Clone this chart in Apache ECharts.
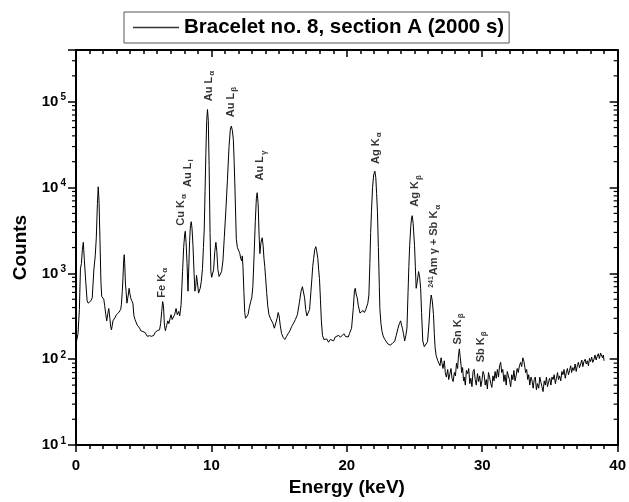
<!DOCTYPE html>
<html>
<head>
<meta charset="utf-8">
<script src="https://cdn.jsdelivr.net/npm/echarts@6/dist/echarts.min.js"></script>
<style>
html,body{margin:0;padding:0;background:#fff}
#chart{width:629px;height:502px}
</style>
</head>
<body>
<div id="chart"></div>
<script>
// spectrum, [energy keV, counts]
var spectrumLow = [
    [0.00,150],[0.15,200],[0.25,380],[0.33,1150],[0.40,1300],[0.47,1900],[0.54,2300],[0.62,1400],[0.72,800],[0.82,480],
    [0.90,450],[1.00,470],[1.10,480],[1.20,520],[1.32,1100],[1.42,1600],[1.50,2600],[1.58,6500],[1.64,10200],[1.70,7000],
    [1.77,2500],[1.84,800],[1.90,540],[1.98,520],[2.05,500],[2.12,420],[2.20,330],[2.27,280],[2.35,340],[2.42,390],
    [2.50,300],[2.56,240],[2.62,220],[2.68,250],[2.73,280],[2.82,270],[2.90,310],[2.98,330],[3.08,320],[3.16,350],
    [3.23,360],[3.30,380],[3.35,430],[3.42,620],[3.47,900],[3.52,1400],[3.56,1650],[3.60,1300],[3.65,750],[3.70,620],
    [3.76,450],[3.80,430],[3.86,560],[3.92,670],[3.98,580],[4.04,520],[4.12,480],[4.20,450],[4.28,320],[4.36,290],
    [4.45,280],[4.52,250],[4.60,240],[4.70,230],[4.78,215],[4.86,225],[4.94,210],[5.02,200],[5.10,205],[5.19,195],
    [5.26,185],[5.34,195],[5.43,188],[5.50,198],[5.58,185],[5.67,195],[5.75,190],[5.84,205],[5.92,200],[6.00,215],
    [6.08,205],[6.17,220],[6.25,260],[6.33,360],[6.40,470],[6.46,420],[6.53,250],[6.60,215],[6.70,250],[6.78,280],
    [6.86,260],[6.95,300],[7.02,330],[7.10,290],[7.19,280],[7.28,330],[7.39,390],[7.48,330],[7.58,360],[7.66,320],
    [7.76,430],[7.82,700],[7.87,1050],[7.95,2000],[8.03,2900],[8.07,3100],[8.13,2300],[8.20,1300],[8.27,620],[8.33,1200],
    [8.39,2400],[8.45,3600],[8.51,4000],[8.57,3300],[8.64,2100],[8.72,1000],[8.78,620],[8.84,700],[8.90,950],[8.96,800],
    [9.05,590],[9.12,620],[9.17,670],[9.25,800],[9.34,1140]
];
var spectrumAu = [
    [9.41,2000],[9.47,3300],[9.53,9000],[9.59,25000],[9.65,60000],[9.71,81000],[9.77,60000],[9.83,18000],[9.90,3000],[9.96,1050],
    [10.02,900],[10.08,870],[10.16,1100],[10.25,1800],[10.33,2300],[10.40,1800],[10.48,1100],[10.57,920],[10.66,950],[10.75,1050],
    [10.85,1400],[10.95,2600],[11.06,5200],[11.18,12000],[11.30,30000],[11.40,48000],[11.47,52000],[11.55,46000],[11.62,36000],[11.68,20000],
    [11.74,9600],[11.80,4200],[11.84,2500],[11.92,2000],[12.00,1900],[12.04,1800],[12.10,1700],[12.16,1500],[12.23,1400],[12.28,1600],
    [12.33,1200],[12.40,600],[12.46,350],[12.52,300],[12.60,310],[12.70,330],[12.80,400],[12.90,470],[12.98,520],[13.06,700],
    [13.15,1600],[13.24,4000],[13.32,7500],[13.38,8700],[13.45,6500],[13.52,2800],[13.58,1700],[13.66,2300],[13.75,2600],[13.82,2100],
    [13.88,1500],[13.94,1200],[14.00,900],[14.08,600],[14.16,420],[14.25,330],[14.35,300],[14.45,290]
];
var spectrumMid = [
    [14.55,260],[14.65,230],[14.75,240],[14.85,300],[14.93,350],[15.00,320],[15.08,250],[15.18,200],[15.30,180],[15.42,170],
    [15.55,185],[15.68,200],[15.80,215],[15.92,240],[16.05,260],[16.20,290],[16.35,330],[16.50,460],[16.62,620],[16.72,700],
    [16.80,680],[16.88,520],[16.96,380],[17.05,320],[17.15,310],[17.25,380],[17.35,620],[17.42,870],[17.48,1200],[17.55,1490],
    [17.63,1900],[17.71,2050],[17.78,1800],[17.86,1490],[17.92,1100],[17.98,870],[18.05,500],[18.12,280],[18.20,190],[18.30,170],
    [18.40,165],[18.52,172],[18.65,158],[18.78,170],[18.90,176],[19.02,164],[19.15,182],[19.28,176],[19.40,190],[19.52,180],
    [19.65,186],[19.78,198],[19.90,184],[20.00,176],[20.11,182],[20.20,200],[20.35,230],[20.48,400],[20.56,620],[20.62,670],
    [20.70,560],[20.77,520],[20.85,420],[20.97,345],[21.08,360],[21.20,370],[21.30,350],[21.40,380],[21.46,390],[21.55,450],
    [21.63,560],[21.70,1300],[21.76,3000],[21.82,5300],[21.90,10000],[21.98,14000],[22.07,15500],[22.14,13000],[22.20,8500],[22.26,5300],
    [22.33,2000],[22.40,700],[22.44,390],[22.52,260],[22.60,210],[22.68,187],[22.80,170],[22.92,160],[23.05,150],[23.20,146],
    [23.35,152],[23.45,160],[23.54,163],[23.65,190],[23.78,230],[23.88,260],[23.97,280],[24.04,250],[24.10,230],[24.18,200],
    [24.27,163],[24.36,190],[24.44,230],[24.52,600],[24.58,1200],[24.64,2100],[24.72,3500],[24.78,4400],[24.83,4700],[24.90,3800],
    [24.95,2800],[25.00,2100],[25.06,1200],[25.12,670],[25.20,800],[25.30,1050],[25.38,900],[25.45,670],[25.52,350],[25.61,163],
    [25.72,140],[25.86,136],[25.96,160],[26.06,250],[26.15,420],[26.23,560],[26.31,480],[26.40,330],[26.46,200],[26.52,136],
    [26.60,110],[26.72,96]
];
var spectrumTail = [
    [26.80,92],[26.88,84],[26.96,104],[27.03,90],[27.10,78],[27.20,96],[27.27,70],[27.35,62],[27.45,76],[27.52,58],
    [27.60,66],[27.69,78],[27.77,60],[27.85,55],[27.94,70],[28.02,64],[28.10,90],[28.18,78],[28.25,112],[28.31,132],
    [28.38,104],[28.44,84],[28.48,70],[28.55,80],[28.62,56],[28.67,62],[28.75,50],[28.83,74],[28.92,68],[29.00,78],
    [29.08,52],[29.16,60],[29.24,48],[29.32,72],[29.40,76],[29.48,58],[29.56,50],[29.65,68],[29.73,55],[29.81,64],
    [29.90,48],[29.98,57],[30.06,72],[30.14,66],[30.22,50],[30.30,58],[30.38,45],[30.46,70],[30.54,62],[30.63,52],
    [30.71,47],[30.79,64],[30.87,56],[30.95,72],[31.03,60],[31.12,76],[31.20,62],[31.28,84],[31.36,92],[31.44,70],
    [31.52,76],[31.60,55],[31.68,66],[31.77,50],[31.85,72],[31.93,64],[32.01,58],[32.10,48],[32.18,66],[32.26,58],
    [32.34,74],[32.42,56],[32.50,64],[32.58,78],[32.66,70],[32.75,84],[32.83,92],[32.91,82],[33.00,104],[33.08,94],
    [33.15,80],[33.20,70],[33.28,76],[33.36,58],[33.43,66],[33.51,50],[33.60,62],[33.68,56],[33.76,46],[33.84,58],
    [33.92,62],[34.00,44],[34.08,52],[34.17,46],[34.25,62],[34.33,54],[34.41,48],[34.49,42],[34.58,56],[34.66,50],
    [34.74,62],[34.82,48],[34.90,55],[34.98,60],[35.07,50],[35.15,62],[35.23,58],[35.31,66],[35.40,52],[35.48,60],
    [35.56,70],[35.63,58],[35.71,64],[35.80,56],[35.88,72],[35.96,66],[36.04,76],[36.13,60],[36.21,70],[36.29,78],
    [36.37,66],[36.45,74],[36.53,84],[36.60,70],[36.69,80],[36.77,74],[36.86,88],[36.94,72],[37.02,84],[37.10,92],
    [37.18,80],[37.27,88],[37.35,98],[37.43,82],[37.51,94],[37.60,100],[37.68,88],[37.76,96],[37.84,84],[37.92,102],
    [38.00,94],[38.08,106],[38.16,92],[38.25,100],[38.33,112],[38.41,98],[38.49,108],[38.57,116],[38.65,102],[38.74,118],
    [38.82,122],[38.88,104],[38.94,112],[39.00,96]
];

// peak labels: [text, energy, counts at the foot of the label]
var peakLabels = [
    ['{n|Fe K}{s|α}', 6.39, 515],
    ['{n|Cu K}{s|α}', 7.78, 3550],
    ['{n|Au L}{s|l}', 8.29, 10000],
    ['{n|Au L}{s|α}', 9.83, 100000],
    ['{n|Au L}{s|β}', 11.45, 65000],
    ['{n|Au L}{s|γ}', 13.65, 11900],
    ['{n|Ag K}{s|α}', 22.17, 18600],
    ['{n|Ag K}{s|β}', 25.10, 5900],
    ['{p|241}{n|Am γ + Sb K}{s|α}', 26.50, 670],
    ['{n|Sn K}{s|β}', 28.26, 147],
    ['{n|Sb K}{s|β}', 29.94, 91]
];

var yMin = 10, yMax = 400000;
var yDecades = [10, 100, 1000, 10000, 100000];
var seriesName = 'Bracelet no. 8, section A (2000 s)';

var FONT = '"Liberation Sans", Arial, sans-serif';

// log minor ticks (2..9 in every decade)
var minorTicks = [];
yDecades.forEach(function (d) {
    for (var k = 2; k <= 9; k++) {
        if (d * k < yMax) minorTicks.push([d * k]);
    }
});

var spectrum = spectrumLow.concat(spectrumAu, spectrumMid, spectrumTail);

var chart = echarts.init(document.getElementById('chart'));

function yLabel(v) {
    var e = Math.log10(v);
    if (Math.abs(e - Math.round(e)) > 1e-6) return '';
    return '{b|10}{sup|' + Math.round(e) + '}';
}

var axisLine = {show: true, onZero: false, lineStyle: {color: '#000', width: 2}};

option = {
    animation: false,
    backgroundColor: '#fff',
    grid: {left: 76, right: 8, top: 50, bottom: 54},
    legend: {
        data: [{name: seriesName, icon: 'rect'}],
        left: 124,
        top: 12,
        padding: [5, 5, 5, 9],
        itemWidth: 46,
        itemHeight: 1.5,
        itemStyle: {color: '#333'},
        borderColor: '#555',
        borderWidth: 1,
        textStyle: {fontFamily: FONT, fontWeight: 'bold', fontSize: 20.5, color: '#000'}
    },
    xAxis: [{
        type: 'value',
        min: 0,
        max: 40,
        interval: 10,
        position: 'bottom',
        axisLine: axisLine,
        axisTick: {show: true, inside: false, length: 7, lineStyle: {color: '#000', width: 1.5}},
        minorTick: {show: true, splitNumber: 10, length: 4, lineStyle: {color: '#000', width: 1.5}},
        splitLine: {show: false},
        axisLabel: {margin: 13, fontFamily: FONT, fontWeight: 'bold', fontSize: 15, color: '#000'},
        name: 'Energy (keV)',
        nameLocation: 'middle',
        nameGap: 32,
        nameTextStyle: {fontFamily: FONT, fontWeight: 'bold', fontSize: 19, color: '#000'}
    }, {
        type: 'value',
        min: 0,
        max: 40,
        interval: 10,
        position: 'top',
        axisLine: axisLine,
        axisTick: {show: true, inside: true, length: 7, lineStyle: {color: '#000', width: 1.5}},
        minorTick: {show: true, splitNumber: 10, length: 4, lineStyle: {color: '#000', width: 1.5}},
        splitLine: {show: false},
        axisLabel: {show: false}
    }],
    yAxis: [{
        type: 'log',
        logBase: 10,
        min: yMin,
        max: yMax,
        position: 'left',
        axisLine: axisLine,
        axisTick: {show: true, inside: false, length: 8, lineStyle: {color: '#000', width: 1.5}},
        minorTick: {show: false},
        splitLine: {show: false},
        axisLabel: {
            margin: 10,
            formatter: yLabel,
            rich: {
                b: {fontFamily: FONT, fontWeight: 'bold', fontSize: 15, color: '#000', lineHeight: 18},
                sup: {fontFamily: FONT, fontWeight: 'bold', fontSize: 10, color: '#000', lineHeight: 10, verticalAlign: 'top', padding: [0, 0, 0, 2]}
            }
        },
        name: 'Counts',
        nameLocation: 'middle',
        nameGap: 46,
        nameTextStyle: {fontFamily: FONT, fontWeight: 'bold', fontSize: 19, color: '#000'}
    }, {
        type: 'log',
        logBase: 10,
        min: yMin,
        max: yMax,
        position: 'right',
        axisLine: axisLine,
        axisTick: {show: true, inside: true, length: 8, lineStyle: {color: '#000', width: 1.5}},
        minorTick: {show: false},
        splitLine: {show: false},
        axisLabel: {show: false}
    }],
    series: [{
        name: seriesName,
        type: 'line',
        data: spectrum,
        symbol: 'none',
        showSymbol: false,
        lineStyle: {color: '#000', width: 1},
        itemStyle: {color: '#000'},
        z: 3
    }, {
        // minor ticks of the log axes, left outward and right inward
        type: 'custom',
        data: minorTicks,
        silent: true,
        renderItem: function (params, api) {
            var v = api.value(0);
            var pl = api.coord([0, v]);
            var pr = api.coord([40, v]);
            return {
                type: 'group',
                children: [{
                    type: 'line',
                    shape: {x1: pl[0] - 4, y1: pl[1], x2: pl[0], y2: pl[1]},
                    style: {stroke: '#000', lineWidth: 1.2}
                }, {
                    type: 'line',
                    shape: {x1: pr[0] - 4, y1: pr[1], x2: pr[0], y2: pr[1]},
                    style: {stroke: '#000', lineWidth: 1.2}
                }]
            };
        },
        clip: false,
        z: 4
    }, {
        // peak annotations
        type: 'scatter',
        silent: true,
        symbolSize: 1,
        itemStyle: {color: 'rgba(0,0,0,0)'},
        data: peakLabels.map(function (p) {
            return {name: p[0], value: [p[1], p[2]]};
        }),
        label: {
            show: true,
            position: [0, 0],
            rotate: 90,
            align: 'left',
            verticalAlign: 'middle',
            formatter: function (p) { return p.name; },
            rich: {
                n: {fontFamily: FONT, fontWeight: 'bold', fontSize: 11, color: '#000', lineHeight: 14},
                s: {fontFamily: FONT, fontWeight: 'bold', fontSize: 8, color: '#000', lineHeight: 8, verticalAlign: 'bottom', padding: [0, 0, 0, 1]},
                p: {fontFamily: FONT, fontWeight: 'bold', fontSize: 7, color: '#000', lineHeight: 8, verticalAlign: 'top', padding: [0, 1, 0, 0]}
            }
        },
        z: 5
    }]
};

chart.setOption(option);
</script>
</body>
</html>
